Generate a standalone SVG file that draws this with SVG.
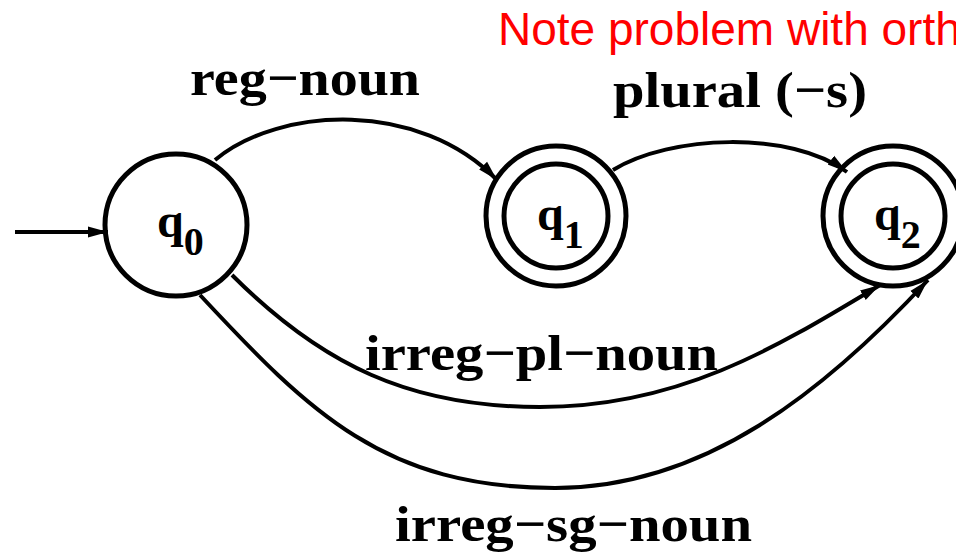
<svg xmlns="http://www.w3.org/2000/svg" width="956" height="555" viewBox="0 0 956 555">
<defs>
<style>
.st{fill:none;stroke:#000;stroke-width:5}
.ed{fill:none;stroke:#000;stroke-width:4}
.lbl{font-family:"Times New Roman","Liberation Serif",Times,serif;font-weight:bold;font-size:51px;fill:#000}
.q{font-family:"Times New Roman","Liberation Serif",Times,serif;font-weight:bold;font-size:48px;fill:#000}
.sub{font-size:40px}
.note{font-family:"Liberation Sans",Arial,sans-serif;font-size:46px;fill:#FF0000}
</style>
<marker id="ah" markerUnits="userSpaceOnUse" markerWidth="22" markerHeight="14" viewBox="0 0 22 14" refX="20" refY="7" orient="auto">
<path d="M0,1.5 L20,7 L0,12.5 z" fill="#000"/>
</marker>
</defs>
<rect width="956" height="555" fill="#fff"/>
<text class="note" x="498" y="45">Note problem with orth</text>
<g id="q0">
<circle class="st" cx="176" cy="225" r="71"/>
<text class="q" x="157" y="237">q<tspan class="sub" y="255">0</tspan></text>
</g>
<g id="q1">
<circle class="st" cx="556" cy="216" r="70"/>
<circle class="st" cx="556" cy="216" r="52"/>
<text class="q" x="537" y="230">q<tspan class="sub" y="248">1</tspan></text>
</g>
<g id="q2">
<circle class="st" cx="893" cy="216" r="70"/>
<circle class="st" cx="893" cy="216" r="52"/>
<text class="q" x="874" y="230">q<tspan class="sub" y="248">2</tspan></text>
</g>
<g id="connectors">
<path class="ed" d="M15,232 L108,232" marker-end="url(#ah)"/>
<path class="ed" d="M215,160 C280,106 420,100 497,180" marker-end="url(#ah)"/>
<path class="ed" d="M613,170 C670,135 790,130 847,172" marker-end="url(#ah)"/>
<path class="ed" d="M232,275 C322,365 410,407 540,407 C680,407 777,347 880,285" marker-end="url(#ah)"/>
<path class="ed" d="M200,295 C310,413 385,488 555,488 C705,488 826,390 928,280" marker-end="url(#ah)"/>
<text class="lbl" x="190" y="95" textLength="230" lengthAdjust="spacingAndGlyphs">reg−noun</text>
<text class="lbl" x="613" y="107" textLength="254" lengthAdjust="spacingAndGlyphs">plural (−s)</text>
<text class="lbl" x="365" y="370" textLength="353" lengthAdjust="spacingAndGlyphs">irreg−pl−noun</text>
<text class="lbl" x="395" y="541" textLength="357" lengthAdjust="spacingAndGlyphs">irreg−sg−noun</text>
</g>
</svg>
